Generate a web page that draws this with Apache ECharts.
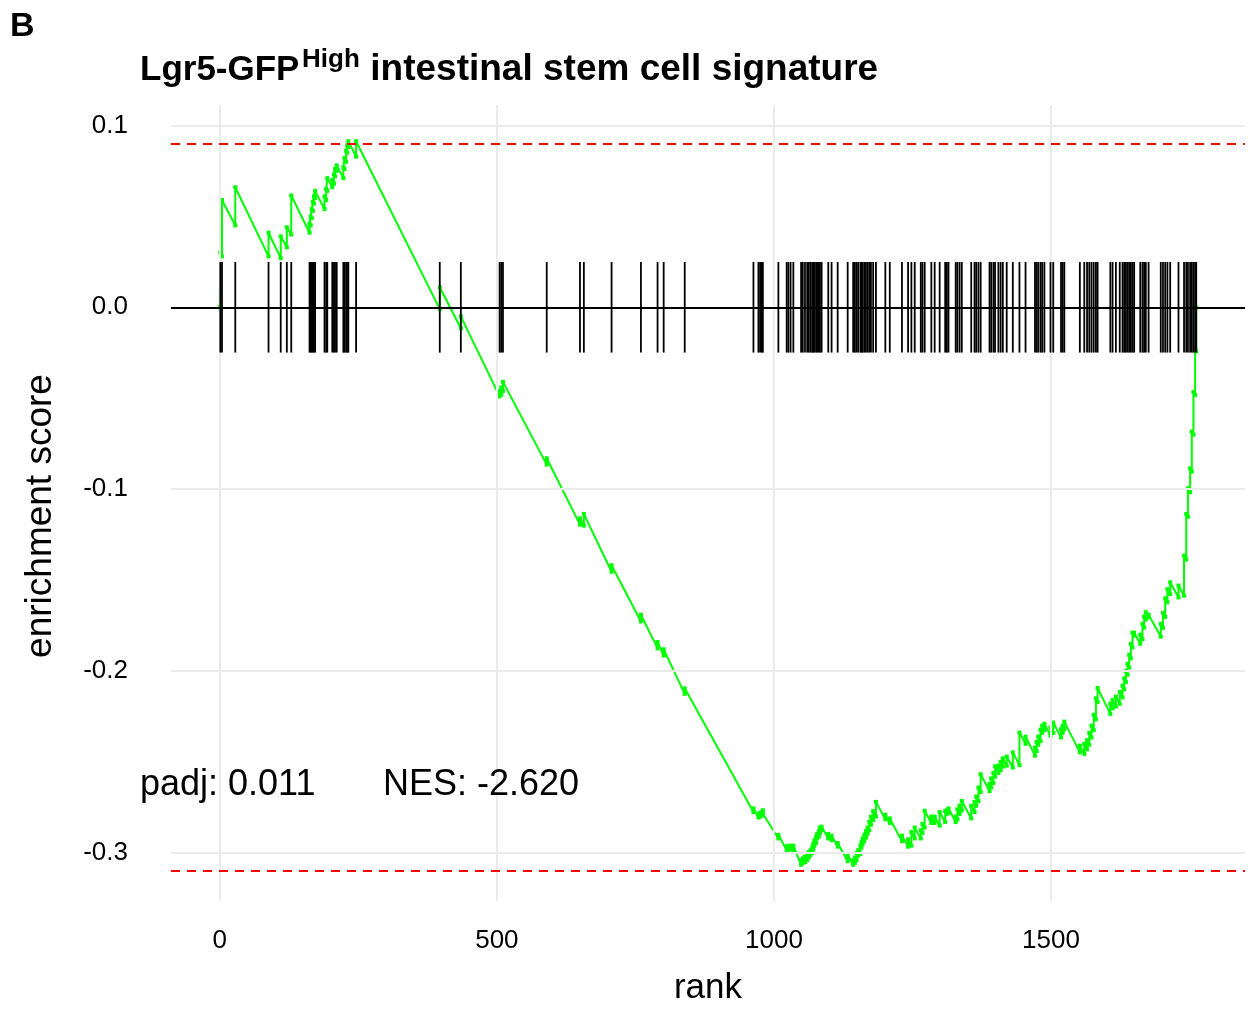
<!DOCTYPE html>
<html>
<head>
<meta charset="utf-8">
<script src="https://cdn.jsdelivr.net/npm/echarts@6/dist/echarts.min.js"></script>
<style>
  html, body { margin: 0; padding: 0; background: #fff; }
  #chart { width: 1248px; height: 1011px; }
</style>
</head>
<body>
<div id="chart"></div>
<script>
// ---------------- data ----------------
const panelLabel = 'B';
const titleMain = 'Lgr5-GFP';
const titleSup = 'High';
const titleRest = ' intestinal stem cell signature';
const xAxisTitle = 'rank';
const yAxisTitle = 'enrichment score';
const padjText = 'padj: 0.011';
const nesText = 'NES: -2.620';

const xRange = [-88, 1850];
const yRange = [-0.3264, 0.1112];
const xTicks = [0, 500, 1000, 1500];
const yTicks = [-0.3, -0.2, -0.1, 0.0, 0.1];

const esMax = 0.0913;
const esMin = -0.3065;
const tickHalf = 0.0249;

const hitRanks = [1, 4, 28, 88, 110, 121, 129, 162, 164, 166, 168, 170, 172, 189, 192, 194, 203, 206, 208, 211,
  223, 225, 228, 230, 232, 246, 397, 435, 505, 508, 511, 590, 650, 657, 707, 760, 790, 801, 839,
  963, 972, 975, 978, 980, 1008, 1023, 1026, 1030, 1035, 1049, 1052, 1056, 1060, 1063, 1066, 1069,
  1071, 1073, 1076, 1078, 1081, 1083, 1086, 1098, 1104, 1115, 1133, 1143, 1146, 1149, 1152, 1156,
  1158, 1160, 1163, 1166, 1169, 1172, 1175, 1179, 1184, 1201, 1209, 1231, 1242, 1248, 1254, 1265,
  1268, 1272, 1284, 1290, 1299, 1309, 1312, 1315, 1328, 1331, 1335, 1339, 1356, 1362, 1365, 1369,
  1373, 1389, 1392, 1396, 1399, 1405, 1409, 1413, 1420, 1431, 1443, 1454, 1471, 1474, 1477, 1481,
  1484, 1488, 1499, 1504, 1518, 1521, 1524, 1552, 1560, 1565, 1569, 1573, 1577, 1581, 1584, 1607,
  1611, 1617, 1624, 1629, 1632, 1635, 1638, 1641, 1644, 1647, 1650, 1661, 1665, 1668, 1671, 1676,
  1698, 1702, 1706, 1710, 1715, 1730, 1740, 1744, 1747, 1751, 1754, 1757, 1760, 1762];

const esCurve = [
  [0, 0], [1, 0.0], [1, 0.030], [4, 0.028], [4, 0.059], [28, 0.045], [28, 0.066],
  [88, 0.028], [88, 0.041], [110, 0.027], [110, 0.039], [121, 0.033], [121, 0.044],
  [129, 0.040], [129, 0.0615], [162, 0.041], [162, 0.046], [164, 0.045], [164, 0.050],
  [166, 0.049], [166, 0.054], [168, 0.053], [168, 0.058], [170, 0.057], [170, 0.061],
  [172, 0.060], [172, 0.064], [189, 0.054], [189, 0.061], [192, 0.059], [192, 0.065],
  [194, 0.064], [194, 0.071], [203, 0.066], [203, 0.070], [206, 0.068], [206, 0.073],
  [208, 0.072], [208, 0.076], [211, 0.075], [211, 0.078], [223, 0.071], [223, 0.077],
  [225, 0.076], [225, 0.082], [228, 0.080], [228, 0.086], [230, 0.085], [230, 0.089],
  [232, 0.088], [232, 0.0913], [246, 0.0828], [246, 0.0913],
  [397, -0.001], [397, 0.011], [435, -0.0115], [435, -0.005],
  [505, -0.049], [505, -0.046], [508, -0.048], [508, -0.044], [511, -0.046], [511, -0.041],
  [590, -0.0865], [590, -0.083], [650, -0.1195], [650, -0.116], [657, -0.120], [657, -0.1136],
  [707, -0.1454], [707, -0.1418], [760, -0.1727], [760, -0.169], [790, -0.1875], [790, -0.184],
  [801, -0.1915], [801, -0.188], [839, -0.2125], [839, -0.2095],
  [963, -0.2775], [963, -0.2755], [972, -0.2805], [972, -0.2785], [975, -0.2800], [975, -0.2780],
  [978, -0.2795], [978, -0.2775], [980, -0.2785], [980, -0.2765], [1008, -0.2920], [1008, -0.2900],
  [1023, -0.2985], [1023, -0.2965], [1026, -0.2980], [1026, -0.2960], [1030, -0.2980], [1030, -0.2960],
  [1035, -0.2985], [1035, -0.2960], [1049, -0.3065], [1049, -0.3040], [1052, -0.3055], [1052, -0.3030],
  [1056, -0.3050], [1056, -0.3020], [1060, -0.3040], [1060, -0.3010], [1063, -0.3025], [1063, -0.2995],
  [1066, -0.3010], [1066, -0.2985], [1069, -0.3000], [1069, -0.2970], [1071, -0.2980], [1071, -0.2950],
  [1073, -0.2960], [1073, -0.2930], [1076, -0.2945], [1076, -0.2910], [1078, -0.2920], [1078, -0.2895],
  [1081, -0.2910], [1081, -0.2880], [1083, -0.2890], [1083, -0.2860], [1086, -0.2875], [1086, -0.2855],
  [1098, -0.2920], [1098, -0.2895], [1104, -0.2930], [1104, -0.2905], [1115, -0.2965], [1115, -0.2945],
  [1133, -0.3045], [1133, -0.3010], [1143, -0.3065], [1143, -0.3040], [1146, -0.3055], [1146, -0.3025],
  [1149, -0.3040], [1149, -0.3000], [1152, -0.3015], [1152, -0.2985], [1156, -0.3005], [1156, -0.2960],
  [1158, -0.2970], [1158, -0.2940], [1160, -0.2950], [1160, -0.2920], [1163, -0.2935], [1163, -0.2900],
  [1166, -0.2915], [1166, -0.2880], [1169, -0.2895], [1169, -0.2860], [1172, -0.2875], [1172, -0.2828],
  [1175, -0.2845], [1175, -0.2800], [1179, -0.2820], [1179, -0.2770], [1184, -0.2800], [1184, -0.2719],
  [1201, -0.2815], [1201, -0.2790], [1209, -0.2835], [1209, -0.2810], [1231, -0.2935], [1231, -0.2905],
  [1242, -0.2965], [1242, -0.2925], [1248, -0.2960], [1248, -0.2885], [1254, -0.2920], [1254, -0.2860],
  [1265, -0.2920], [1265, -0.2875], [1268, -0.2890], [1268, -0.2840], [1272, -0.2860], [1272, -0.2768],
  [1284, -0.2835], [1284, -0.2800], [1290, -0.2835], [1290, -0.2800], [1299, -0.2850], [1299, -0.2775],
  [1309, -0.2830], [1309, -0.2770], [1312, -0.2785], [1312, -0.2765], [1315, -0.2780], [1315, -0.2755],
  [1328, -0.2830], [1328, -0.2800], [1331, -0.2815], [1331, -0.2760], [1335, -0.2785], [1335, -0.2740],
  [1339, -0.2765], [1339, -0.2714], [1356, -0.2810], [1356, -0.2741], [1362, -0.2775], [1362, -0.2720],
  [1365, -0.2740], [1365, -0.2690], [1369, -0.2715], [1369, -0.2640], [1373, -0.2665], [1373, -0.2567],
  [1389, -0.2660], [1389, -0.2620], [1392, -0.2640], [1392, -0.2590], [1396, -0.2615], [1396, -0.2560],
  [1399, -0.2580], [1399, -0.2523], [1405, -0.2560], [1405, -0.2520], [1409, -0.2545], [1409, -0.2500],
  [1413, -0.2525], [1413, -0.2480], [1420, -0.2520], [1420, -0.2470], [1431, -0.2530], [1431, -0.2447],
  [1443, -0.2517], [1443, -0.2338], [1454, -0.2400], [1454, -0.2360], [1471, -0.2465], [1471, -0.2420],
  [1474, -0.2440], [1474, -0.2390], [1477, -0.2405], [1477, -0.2360], [1481, -0.2385], [1481, -0.2322],
  [1484, -0.2340], [1484, -0.2300], [1488, -0.2325], [1488, -0.2290], [1499, -0.2355], [1499, -0.2310],
  [1504, -0.2340], [1504, -0.2283], [1518, -0.2365], [1518, -0.2320], [1521, -0.2340], [1521, -0.2300],
  [1524, -0.2320], [1524, -0.2278], [1552, -0.2447], [1552, -0.2410], [1560, -0.2455], [1560, -0.2400],
  [1565, -0.2430], [1565, -0.2380], [1569, -0.2405], [1569, -0.2340], [1573, -0.2365], [1573, -0.2300],
  [1577, -0.2325], [1577, -0.2240], [1581, -0.2265], [1581, -0.2150], [1584, -0.2170], [1584, -0.2093],
  [1607, -0.2235], [1607, -0.2180], [1611, -0.2205], [1611, -0.2160], [1617, -0.2195], [1617, -0.2140],
  [1624, -0.2180], [1624, -0.2115], [1629, -0.2145], [1629, -0.2080], [1632, -0.2100], [1632, -0.2040],
  [1635, -0.2060], [1635, -0.2000], [1638, -0.2020], [1638, -0.1960], [1641, -0.1980], [1641, -0.1910],
  [1644, -0.1930], [1644, -0.1850], [1647, -0.1870], [1647, -0.1788], [1650, -0.1805], [1650, -0.1790],
  [1661, -0.1850], [1661, -0.1800], [1665, -0.1825], [1665, -0.1740], [1668, -0.1760], [1668, -0.1700],
  [1671, -0.1717], [1671, -0.1676], [1676, -0.1704], [1676, -0.1690], [1698, -0.1811], [1698, -0.1740],
  [1702, -0.1762], [1702, -0.1680], [1706, -0.1702], [1706, -0.1600], [1710, -0.1622], [1710, -0.1550],
  [1715, -0.1577], [1715, -0.1512], [1730, -0.1595], [1730, -0.1530], [1740, -0.1585], [1740, -0.1365],
  [1744, -0.1387], [1744, -0.1136], [1747, -0.1152], [1747, -0.0995], [1751, -0.1017], [1751, -0.0886],
  [1754, -0.0903], [1754, -0.0684], [1757, -0.0700], [1757, -0.0466], [1760, -0.0482], [1760, -0.0232],
  [1762, -0.0243], [1762, 0]
];

// ---------------- chart ----------------
const FONT = '"Liberation Sans", Arial, Helvetica, sans-serif';
const chart = echarts.init(document.getElementById('chart'), null, { renderer: 'canvas' });

const option = {
  animation: false,
  backgroundColor: '#ffffff',
  textStyle: { fontFamily: FONT },
  grid: { left: 171, right: 3, top: 105, bottom: 103, containLabel: false },
  xAxis: {
    type: 'value',
    min: xRange[0], max: xRange[1],
    name: xAxisTitle, nameLocation: 'middle', nameGap: 70,
    nameTextStyle: { fontSize: 35, color: '#000', fontFamily: FONT },
    axisLine: { show: false },
    splitLine: { show: false },
    axisTick: { show: true, customValues: xTicks, length: 8, lineStyle: { color: '#333', width: 1.5 } },
    axisLabel: { customValues: xTicks, margin: 27, fontSize: 26, color: '#000', fontFamily: FONT,
      formatter: v => String(Math.round(v)) }
  },
  yAxis: {
    type: 'value',
    min: yRange[0], max: yRange[1],
    name: yAxisTitle, nameLocation: 'middle', nameGap: 112, nameRotate: 90,
    nameTextStyle: { fontSize: 37, color: '#000', fontFamily: FONT, padding: [0, 26, 0, 0] },
    axisLine: { show: false },
    splitLine: { show: false },
    axisTick: { show: true, customValues: yTicks, length: 8, lineStyle: { color: '#333', width: 1.5 } },
    axisLabel: { customValues: yTicks, margin: 43, fontSize: 26, color: '#000', fontFamily: FONT,
      formatter: v => (Math.abs(v) < 1e-9 ? 0 : v).toFixed(1) }
  },
  graphic: [
    { type: 'text', z: 10, left: 10, top: 10,
      style: { text: panelLabel, font: 'bold 34px ' + FONT, fill: '#000' } },
    { type: 'text', z: 10, x: 140, y: 70,
      style: { text: titleMain, font: 'bold 35px ' + FONT, fill: '#000', verticalAlign: 'middle', align: 'left' } },
    { type: 'text', z: 10, x: 302, y: 59.5,
      style: { text: titleSup, font: 'bold 26px ' + FONT, fill: '#000', verticalAlign: 'middle', align: 'left' } },
    { type: 'text', z: 10, x: 360, y: 70,
      style: { text: titleRest, font: 'bold 37px ' + FONT, fill: '#000', verticalAlign: 'middle', align: 'left' } },
    { type: 'rect', z: 1.5, shape: { x: 128, y: 750, width: 465, height: 65 }, style: { fill: '#ffffff' } },
    { type: 'text', z: 10, x: 140, y: 785,
      style: { text: padjText, font: '36px ' + FONT, fill: '#000', verticalAlign: 'middle', align: 'left' } },
    { type: 'text', z: 10, x: 383, y: 785,
      style: { text: nesText, font: '36px ' + FONT, fill: '#000', verticalAlign: 'middle', align: 'left' } }
  ],
  series: [
    { // grid lines
      type: 'line', data: [], z: 1, silent: true,
      markLine: {
        silent: true, symbol: 'none', label: { show: false }, animation: false,
        lineStyle: { color: '#ebebeb', width: 2, type: 'solid' },
        data: xTicks.map(v => ({ xAxis: v })).concat(yTicks.map(v => ({ yAxis: v })))
      }
    },
    { // ES max / min dashed lines
      type: 'line', data: [], z: 2, silent: true,
      markLine: {
        silent: true, symbol: 'none', label: { show: false }, animation: false,
        lineStyle: { color: '#ff0000', width: 2, type: [9, 7] },
        data: [{ yAxis: esMax }, { yAxis: esMin }]
      }
    },
    { // zero line
      type: 'line', data: [], z: 3, silent: true,
      markLine: {
        silent: true, symbol: 'none', label: { show: false }, animation: false,
        lineStyle: { color: '#000000', width: 2, type: 'solid' },
        data: [{ yAxis: 0 }]
      }
    },
    { // running enrichment score
      type: 'line', data: esCurve, z: 4,
      showSymbol: true, showAllSymbol: true, symbol: 'rect', symbolSize: 4,
      itemStyle: { color: '#00ff00' },
      lineStyle: { color: '#00ff00', width: 2 },
      emphasis: { disabled: true }
    },
    { // gene set hits
      type: 'custom', z: 5, silent: true,
      data: hitRanks.map(r => [r, 0]),
      encode: { x: 0, y: 1 },
      renderItem: function (params, api) {
        const r = api.value(0);
        const p1 = api.coord([r, -tickHalf]);
        const p2 = api.coord([r, tickHalf]);
        return { type: 'line', shape: { x1: p1[0], y1: p1[1], x2: p2[0], y2: p2[1] },
          style: { stroke: '#000', lineWidth: 1.8 } };
      }
    }
  ]
};
chart.setOption(option);
</script>
</body>
</html>
